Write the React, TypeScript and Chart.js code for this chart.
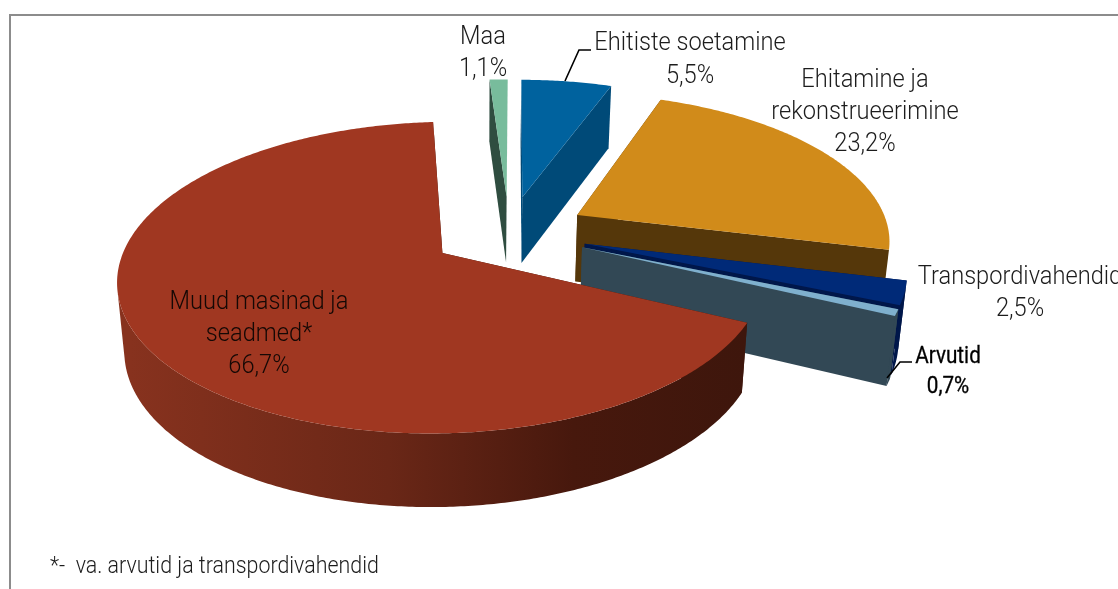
import React, { useEffect, useRef } from "react";
import { Chart, registerables } from "chart.js";

Chart.register(...registerables);

// ---- data ----
const categories = ["Maa", "Ehitiste soetamine", "Ehitamine ja rekonstrueerimine", "Transpordivahendid", "Arvutid", "Muud masinad ja seadmed*"];
const shares = [1.1, 5.5, 23.2, 2.5, 0.7, 66.7];
const topColors = ["#78BC9C", "#00629E", "#D18B1A", "#002A78", "#7FB0CE", "#A03721"];
const wallColors = ["#2F4D40", "#004A78", "#55370A", "#00174A", "#324855", "#3E160C"];
const footnote = "*-  va. arvutid ja transpordivahendid";

// label lines per category
const labelLines = [["Maa"], ["Ehitiste soetamine"], ["Ehitamine ja", "rekonstrueerimine"], ["Transpordivahendid"], ["Arvutid"], ["Muud masinad ja", "seadmed*"]];

// ---- styling / layout ----
const labelPos = [
  { x: 483, y: 44 }, { x: 690, y: 50 }, { x: 865, y: 87 },
  { x: 1020, y: 284 }, { x: 948, y: 363 }, { x: 259, y: 309 },
];
const lineGaps = [32, 33, 32, 32, 30, 32];
const view = { cx: 509, cy: 232, R: 312.5, S: 145.4, p: 0.154, H: 67, lowX: 480, lowXShrink: 0.02, lowScale: 0.962, explode: 0.252 };
const redWallStops: [number, string][] = [[0, "#87321E"], [0.42, "#6A2717"], [0.72, "#47180D"], [1, "#3E160C"]];

type Pt = { x: number; y: number };

function project(u: number, v: number, low: boolean): Pt {
  const w = 1 - view.p * v;
  const x = view.cx + (view.R * u) / w;
  return {
    x: low ? x + (view.lowX - x) * view.lowXShrink : x,
    y: view.cy + ((view.S * v) / w) * (low ? view.lowScale : 1) + (low ? view.H / w : 0),
  };
}

function signedArea(pts: Pt[]) {
  let sum = 0;
  pts.forEach((p, n) => {
    const q = pts[(n + 1) % pts.length];
    sum += p.x * q.y - q.x * p.y;
  });
  return sum;
}

const pie3d = {
  id: "pie3d",
  beforeDatasetsDraw(chart: any) {
    const ctx: CanvasRenderingContext2D = chart.ctx;
    const arcs = chart.getDatasetMeta(0).data;
    const trace = (pts: Pt[]) => {
      pts.forEach((p, n) => (n ? ctx.lineTo(p.x, p.y) : ctx.moveTo(p.x, p.y)));
      ctx.closePath();
    };
    const poly = (pts: Pt[], fill: any) => {
      ctx.beginPath();
      trace(pts);
      ctx.fillStyle = fill;
      ctx.fill();
    };
    arcs.forEach((arc: any, i: number) => {
      const start = arc.startAngle;
      const end = arc.endAngle;
      const mid = (start + end) / 2;
      const ax = view.explode * Math.cos(mid);
      const av = view.explode * Math.sin(mid);
      const steps = Math.max(2, Math.ceil((end - start) / 0.01));
      const rim: { u: number; v: number }[] = [];
      for (let s = 0; s <= steps; s++) {
        const a = start + ((end - start) * s) / steps;
        rim.push({ u: ax + Math.cos(a), v: av + Math.sin(a) });
      }
      const wall = wallColors[i];
      const first = rim[0];
      const last = rim[rim.length - 1];
      poly([project(ax, av, false), project(first.u, first.v, false), project(first.u, first.v, true), project(ax, av, true)], wall);
      poly([project(ax, av, false), project(last.u, last.v, false), project(last.u, last.v, true), project(ax, av, true)], wall);
      let outerFill: any = wall;
      if (i === arcs.length - 1) {
        const g = ctx.createLinearGradient(130, 0, 745, 0);
        redWallStops.forEach(([o, c]) => g.addColorStop(o, c));
        outerFill = g;
      }
      // all viewer-facing wall quads in one path: no seams, silhouette along the tangent
      ctx.beginPath();
      for (let s = 0; s < rim.length - 1; s++) {
        const a = rim[s];
        const b = rim[s + 1];
        const quad = [project(a.u, a.v, false), project(b.u, b.v, false), project(b.u, b.v, true), project(a.u, a.v, true)];
        if (signedArea(quad) < 0) trace(quad);
      }
      ctx.fillStyle = outerFill;
      ctx.fill();
      poly([project(ax, av, false), ...rim.map((r) => project(r.u, r.v, false))], arc.options.backgroundColor);
    });
    return false;
  },
  afterDraw(chart: any) {
    const ctx: CanvasRenderingContext2D = chart.ctx;
    // chart frame (cut by the page's right and bottom edge)
    ctx.save();
    ctx.strokeStyle = "#8C8C8C";
    ctx.lineWidth = 2;
    ctx.beginPath();
    ctx.moveTo(10, 600);
    ctx.lineTo(10, 15);
    ctx.lineTo(1130, 15);
    ctx.stroke();

    // leader lines
    ctx.strokeStyle = "#000";
    ctx.lineWidth = 1.6;
    ctx.beginPath();
    ctx.moveTo(565, 81);
    ctx.lineTo(579, 50);
    ctx.lineTo(591, 50);
    ctx.moveTo(887, 378);
    ctx.lineTo(900, 362);
    ctx.lineTo(912, 362);
    ctx.stroke();

    const text = (s: string, x: number, y: number, size: number, weight: number, color: string, align: CanvasTextAlign, squeeze: number, outline = 0) => {
      ctx.font = `${weight} ${size}px Roboto`;
      ctx.fillStyle = color;
      ctx.textAlign = align;
      ctx.textBaseline = "alphabetic";
      const width = ctx.measureText(s).width * squeeze;
      ctx.fillText(s, x, y, width);
      if (outline) {
        ctx.strokeStyle = color;
        ctx.lineWidth = outline;
        ctx.strokeText(s, x, y, width);
      }
    };
    categories.forEach((_, i) => {
      const lines = [...labelLines[i], shares[i].toFixed(1).replace(".", ",") + "%"];
      lines.forEach((line, n) => {
        const y = labelPos[i].y + n * lineGaps[i];
        if (i === 4) text(line, labelPos[i].x, y, 23, 400, "#000", "center", 0.9, 0.3);
        else text(line, labelPos[i].x, y, 25, 300, i === 5 ? "#140805" : "#1C1C1C", "center", 0.945);
      });
    });
    text(footnote, 50, 573, 23, 300, "#1C1C1C", "left", 0.93);
    ctx.restore();
  },
};

export default function App() {
  const ref = useRef<HTMLCanvasElement>(null);
  useEffect(() => {
    const chart = new Chart(ref.current!, {
      type: "pie",
      data: {
        labels: categories,
        datasets: [{ data: shares, backgroundColor: topColors, borderWidth: 0 }],
      },
      options: {
        responsive: false,
        animation: false,
        rotation: -3.8,
        plugins: { legend: { display: false }, tooltip: { enabled: false } },
      },
      plugins: [pie3d],
    } as any);
    return () => chart.destroy();
  }, []);
  return (
    <div style={{ position: "fixed", left: 0, top: 0, width: 1118, height: 589, overflow: "hidden", background: "#fff" }}>
      <canvas ref={ref} width={1118} height={589} style={{ display: "block" }} />
    </div>
  );
}
